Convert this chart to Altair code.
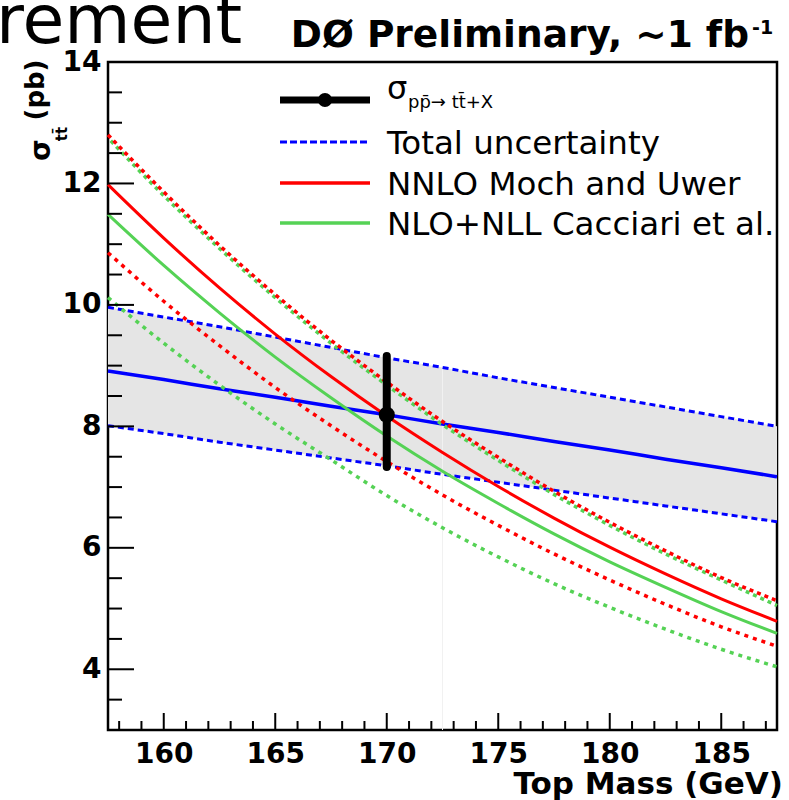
import altair as alt
import pandas as pd

# Top-quark mass grid (GeV)
mass = [157.5, 160.0, 162.5, 165.0, 167.5, 170.0, 172.5, 175.0, 177.5, 180.0, 182.5, 185.0, 187.5]

# Measured cross section vs. assumed top mass, with total uncertainty band (pb)
meas_central = [8.91, 8.77, 8.62, 8.48, 8.33, 8.19, 8.04, 7.90, 7.75, 7.61, 7.46, 7.32, 7.17]
meas_upper = [9.96, 9.80, 9.64, 9.47, 9.30, 9.13, 8.97, 8.80, 8.64, 8.48, 8.32, 8.16, 8.00]
meas_lower = [8.01, 7.88, 7.74, 7.61, 7.48, 7.35, 7.21, 7.08, 6.95, 6.82, 6.69, 6.56, 6.43]

# NNLO (Moch and Uwer) prediction with its uncertainty
nnlo = [11.98, 11.10, 10.28, 9.52, 8.82, 8.17, 7.57, 7.01, 6.49, 6.01, 5.57, 5.16, 4.79]
nnlo_upper = [12.80, 11.86, 10.98, 10.17, 9.42, 8.73, 8.08, 7.49, 6.93, 6.42, 5.95, 5.51, 5.13]
nnlo_lower = [10.86, 10.06, 9.33, 8.64, 8.01, 7.42, 6.87, 6.37, 5.90, 5.47, 5.07, 4.70, 4.38]

# NLO+NLL (Cacciari et al.) prediction with its uncertainty
nlo = [11.49, 10.65, 9.87, 9.14, 8.47, 7.84, 7.26, 6.73, 6.23, 5.77, 5.35, 4.95, 4.59]
nlo_upper = [12.75, 11.80, 10.93, 10.12, 9.37, 8.68, 8.03, 7.44, 6.88, 6.37, 5.90, 5.47, 5.05]
nlo_lower = [10.12, 9.37, 8.68, 8.04, 7.45, 6.86, 6.33, 5.85, 5.41, 5.02, 4.66, 4.33, 4.04]

# Measured point at m_t = 170 GeV
point_mass = [170.0]
point_xsec = [8.19]
point_low = [7.33]
point_high = [9.16]

# Axis ticks
x_major = [160, 165, 170, 175, 180, 185]
x_minor = [158, 159, 161, 162, 163, 164, 166, 167, 168, 169, 171, 172, 173, 174,
           176, 177, 178, 179, 181, 182, 183, 184, 186, 187]
y_major = [4, 6, 8, 10, 12, 14]
y_minor = [3.5, 4.5, 5, 5.5, 6.5, 7, 7.5, 8.5, 9, 9.5, 10.5, 11, 11.5, 12.5, 13, 13.5]

W, H = 669, 668
FONT = "DejaVu Sans"
RED = "#ff0000"
GREEN = "#55d255"
BLUE = "#0000ff"

curves = pd.DataFrame({
    "mass": mass,
    "meas": meas_central, "meas_hi": meas_upper, "meas_lo": meas_lower,
    "nnlo": nnlo, "nnlo_hi": nnlo_upper, "nnlo_lo": nnlo_lower,
    "nlo": nlo, "nlo_hi": nlo_upper, "nlo_lo": nlo_lower,
})
point = pd.DataFrame({"m": point_mass, "xs": point_xsec, "lo": point_low, "hi": point_high})

xs = alt.Scale(domain=[157.5, 187.5], nice=False, zero=False)
ys = alt.Scale(domain=[3, 14], nice=False, zero=False)
xaxis = alt.Axis(values=x_major, format="d", labelPadding=10, labelFlush=False,
                 labelOverlap=False, ticks=False, domain=False, grid=False)
yaxis = alt.Axis(values=y_major, format="d", labelPadding=7, labelFlush=False,
                 labelOverlap=False, ticks=False, domain=False, grid=False)


def X(f):
    return alt.X(f"{f}:Q", scale=xs, axis=xaxis, title=None)


def Y(f):
    return alt.Y(f"{f}:Q", scale=ys, axis=yaxis, title=None)


def curve(col, color, width, dash=None, offset=None):
    kw = dict(color=color, strokeWidth=width, interpolate="monotone")
    if dash:
        kw["strokeDash"] = dash
    if offset:
        kw["strokeDashOffset"] = offset
    return alt.Chart(curves).mark_line(**kw).encode(x=X("mass"), y=Y(col))


band = alt.Chart(curves).mark_area(color="#e5e5e5", opacity=1).encode(
    x=X("mass"), y=Y("meas_hi"), y2="meas_lo"
)

faint = alt.Chart(pd.DataFrame({"m": [172.5], "a": [3.0], "b": [8.95]})).mark_rule(
    color="#f1f1f1", strokeWidth=1
).encode(x=X("m"), y=Y("a"), y2="b")

lines = [
    curve("meas_hi", BLUE, 3, [6, 4]),
    curve("meas_lo", BLUE, 3, [6, 4]),
    curve("meas", BLUE, 3.5),
    curve("nlo_lo", GREEN, 3.5, [4, 5]),
    curve("nnlo_lo", RED, 3.5, [4, 5]),
    curve("nlo", GREEN, 3),
    curve("nnlo", RED, 3),
    curve("nlo_hi", GREEN, 3.5, [4, 4], 4),
    curve("nnlo_hi", RED, 3.5, [4, 4]),
]

errbar = alt.Chart(point).mark_rule(color="black", strokeWidth=8, strokeCap="round").encode(
    x=X("m"), y=Y("lo"), y2="hi"
)
dot = alt.Chart(point).mark_point(filled=True, color="black", opacity=1, size=260).encode(
    x=X("m"), y=Y("xs")
)


# Inward-pointing ticks along the left and bottom frame
def yticks(vals, length):
    return alt.Chart(pd.DataFrame({"v": vals})).mark_rule(color="black", strokeWidth=2).encode(
        y=Y("v"), x=alt.value(0), x2=alt.value(length)
    )


def xticks(vals, length):
    return alt.Chart(pd.DataFrame({"v": vals})).mark_rule(color="black", strokeWidth=2).encode(
        x=X("v"), y=alt.value(H), y2=alt.value(H - length)
    )


ticks = [yticks(y_major, 26), yticks(y_minor, 14), xticks(x_major, 17), xticks(x_minor, 9)]

one = pd.DataFrame({"k": [0]})


def hline(x0, x1, y, color, width, dash=None):
    kw = dict(color=color, strokeWidth=width)
    if dash:
        kw["strokeDash"] = dash
    return alt.Chart(one).mark_rule(**kw).encode(x=alt.value(x0), x2=alt.value(x1), y=alt.value(y))


def label(text, x, y, size, weight="normal", align="left", angle=0, baseline="alphabetic"):
    kw = dict(text=text, font=FONT, fontSize=size, fontWeight=weight, align=align,
              baseline=baseline, color="black")
    if angle:
        kw["angle"] = angle
    return alt.Chart(one).mark_text(**kw).encode(x=alt.value(x), y=alt.value(y))


legend = [
    hline(172, 262, 38, "black", 7),
    alt.Chart(one).mark_point(filled=True, color="black", opacity=1, size=200).encode(
        x=alt.value(217), y=alt.value(38)
    ),
    label("σ", 279, 37, 32),
    label("pp̄→ tt̄+X", 300, 46, 18),
    hline(172, 262, 80, BLUE, 3, [7, 3]),
    label("Total uncertainty", 279, 92, 32.5),
    hline(172, 262, 121, RED, 3.5),
    label("NNLO Moch and Uwer", 279, 133, 32.5),
    hline(172, 262, 161, GREEN, 3.5),
    label("NLO+NLL Cacciari et al.", 279, 173, 32.5),
]

texts = [
    label("rement", -112, -19, 68),
    label("DØ Preliminary, ~1 fb", 641, -15, 37.5, weight="bold", align="right"),
    label("-1", 644, -28, 19, weight="bold"),
    label("Top Mass (GeV)", 675, 732, 31, weight="bold", align="right"),
    label("σ", -58, 88, 28, weight="bold", align="center", angle=270),
    label("tt̄", -41, 72, 15, weight="bold", align="center", angle=270),
    label("(pb)", -64, 28, 26, weight="bold", align="center", angle=270),
]

chart = alt.layer(
    band, faint, *lines, errbar, dot, *ticks, *legend, *texts
).properties(
    width=W,
    height=H,
    autosize=alt.AutoSizeParams(type="none"),
    padding={"left": 108, "top": 62, "right": 12, "bottom": 70},
    background="white",
).configure_view(
    stroke="black", strokeWidth=2.5
).configure_axis(
    labelFont=FONT, labelFontWeight="bold", labelFontSize=28, labelColor="black"
)

chart.save("out.html", embed_options={"renderer": "svg", "actions": False})
